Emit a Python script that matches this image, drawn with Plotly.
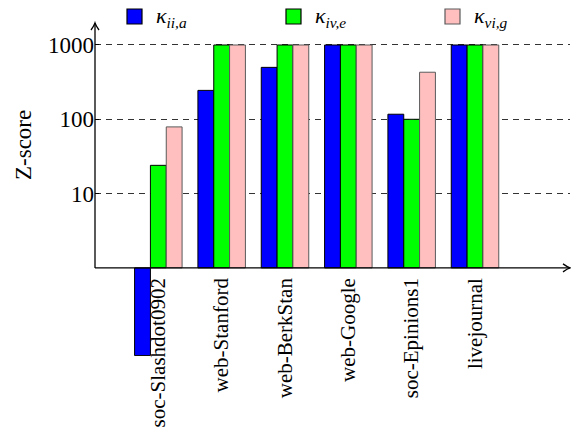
import plotly.graph_objects as go

# Data
datasets = ["soc-Slashdot0902", "web-Stanford", "web-BerkStan",
            "web-Google", "soc-Epinions1", "livejournal"]
kappa_ii_a = [0.066, 245, 500, 1000, 117, 1000]
kappa_iv_e = [24, 1000, 1000, 1000, 100, 1000]
kappa_vi_g = [79, 1000, 1000, 1000, 430, 1000]

series_names = ["<i>κ</i><sub><i>ii,a</i></sub>",
                "<i>κ</i><sub><i>iv,e</i></sub>",
                "<i>κ</i><sub><i>vi,g</i></sub>"]
series_values = [kappa_ii_a, kappa_iv_e, kappa_vi_g]
fill_colors = ["#0000ff", "#00ff00", "#ffbfbf"]
edge_colors = ["#000000", "#000000", "#5a5a5a"]

y_ticks = [10, 100, 1000]
y_tick_text = ["10", "100", "1000"]

FONT = "Liberation Serif, DejaVu Serif, serif"
BASE = 1.0                       # bars grow from Z = 1 (10^0)
Y_RANGE = [-1.186, 3.296]        # log10 range of the value axis
base_frac = (0 - Y_RANGE[0]) / (Y_RANGE[1] - Y_RANGE[0])

W, H = 571, 440
M = dict(l=95, r=1, t=23, b=84)
plot_w = W - M["l"] - M["r"]
plot_h = H - M["t"] - M["b"]


def px_x(px):
    return (px - M["l"]) / plot_w


def px_y(py):
    return (H - M["b"] - py) / plot_h


fig = go.Figure()
for name, vals, fc, ec in zip(series_names, series_values, fill_colors, edge_colors):
    fig.add_trace(go.Bar(
        x=datasets,
        y=[v - BASE for v in vals],
        base=BASE,
        name=name,
        marker=dict(color=fc, line=dict(color=ec, width=1)),
        showlegend=False,
    ))

# Axis lines with open arrow tips, drawn from the baseline upwards / rightwards
arrow_line = dict(color="black", width=1.3)
shapes = [
    dict(type="line", xref="paper", yref="paper", x0=0, x1=0,
         y0=base_frac, y1=1, line=arrow_line),
    dict(type="line", xref="paper", yref="paper", x0=0, x1=1,
         y0=base_frac, y1=base_frac, line=arrow_line),
    dict(type="path", xref="paper", yref="paper", xsizemode="pixel", ysizemode="pixel",
         xanchor=0, yanchor=1, path="M-4,-7 Q-0.8,-2.5 0,0 Q0.8,-2.5 4,-7",
         line=arrow_line, fillcolor="rgba(0,0,0,0)"),
    dict(type="path", xref="paper", yref="paper", xsizemode="pixel", ysizemode="pixel",
         xanchor=1, yanchor=base_frac, path="M-7,4 Q-2.5,0.8 0,0 Q-2.5,-0.8 -7,-4",
         line=arrow_line, fillcolor="rgba(0,0,0,0)"),
]

annotations = [dict(text="Z-score", xref="paper", yref="paper",
                    x=px_x(23), y=px_y(145), xanchor="center", yanchor="middle",
                    textangle=-90, showarrow=False,
                    font=dict(family=FONT, size=23))]

# Legend row across the top: swatch + label per series
legend_left = [127, 286, 445]
for left, name, fc, ec in zip(legend_left, series_names, fill_colors, edge_colors):
    shapes.append(dict(type="rect", xref="paper", yref="paper",
                       x0=px_x(left), x1=px_x(left + 15), y0=px_y(24), y1=px_y(9),
                       fillcolor=fc, line=dict(color=ec, width=1.2)))
    annotations.append(dict(text=name, xref="paper", yref="paper",
                            x=px_x(left + 27), y=px_y(17), xanchor="left",
                            yanchor="middle", showarrow=False,
                            font=dict(family=FONT, size=22)))

fig.update_layout(
    width=W, height=H,
    margin=dict(**M, autoexpand=False),
    paper_bgcolor="white", plot_bgcolor="white",
    font=dict(family=FONT, color="black"),
    barmode="group", bargap=0.25, bargroupgap=0,
    showlegend=False,
    xaxis=dict(type="category", range=[-1, 6.5], anchor="free", position=base_frac,
               showline=False, ticks="", tickangle=-90, showgrid=False, zeroline=False,
               ticklabelstandoff=5, tickfont=dict(family=FONT, size=21)),
    yaxis=dict(type="log", range=Y_RANGE, tickvals=y_ticks, ticktext=y_tick_text,
               ticks="inside", ticklen=4, tickcolor="black", showline=False,
               showgrid=True, gridcolor="#333333", griddash="6px,5px", gridwidth=1,
               zeroline=False, tickfont=dict(family=FONT, size=23)),
    shapes=shapes,
    annotations=annotations,
)

fig.write_html("out.html")
